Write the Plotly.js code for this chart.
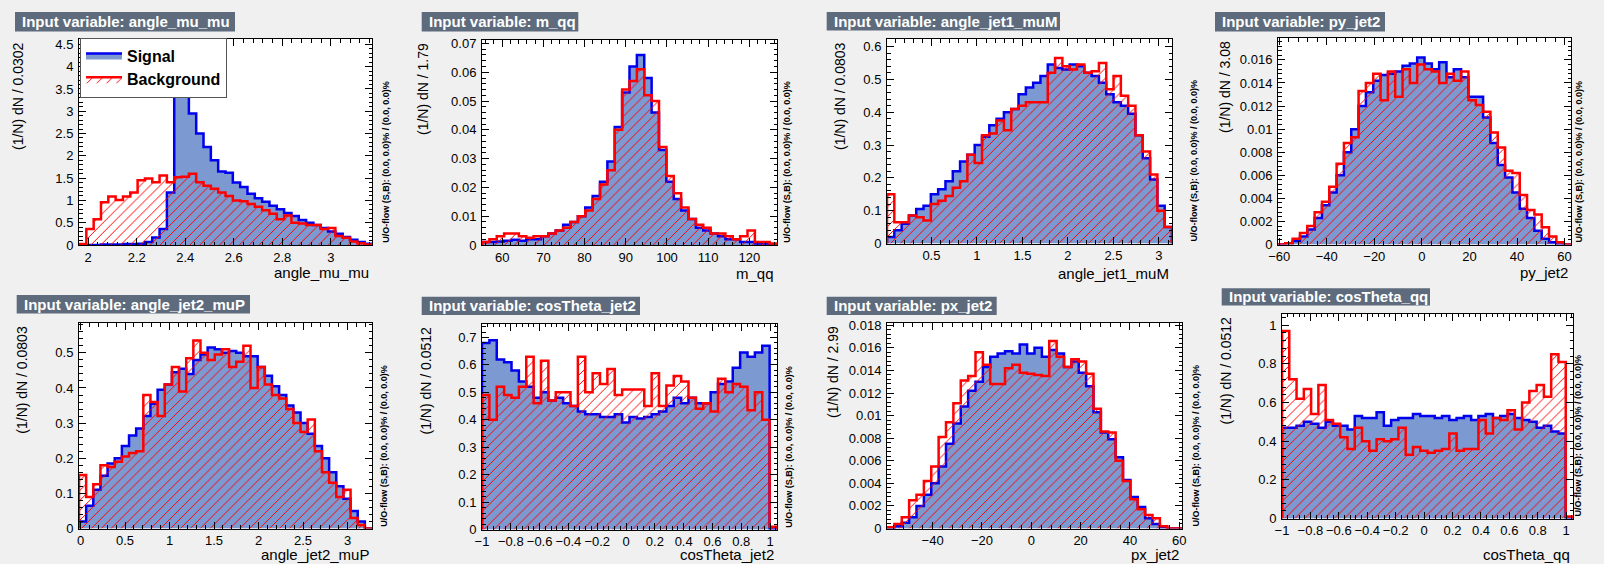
<!DOCTYPE html>
<html>
<head>
<meta charset="utf-8">
<script src="https://cdn.plot.ly/plotly-3.0.1.min.js"></script>
<style>
  html, body { margin: 0; padding: 0; background: #f0f0f0; }
  #plot { width: 1604px; height: 564px; }
</style>
</head>
<body>
<div id="plot"></div>
<script>
// Input-variable distributions, normalised per bin: (1/N) dN / binwidth.
const variableNames = ['angle_mu_mu', 'm_qq', 'angle_jet1_muM', 'py_jet2',
                       'angle_jet2_muP', 'cosTheta_jet2', 'px_jet2', 'cosTheta_qq'];
// lower edge of the first bin and the bin width of each histogram
const binLow   = [1.962, 55.1, 0.012, -60.5, -0.017, -1.0, -58.5, -1.0];
const binWidth = [0.0302, 1.79, 0.0803, 3.08, 0.0803, 0.0512, 2.99, 0.0512];

const signal_angle_mu_mu = [0.0, 0.0, 0.0, 0.01, 0.01, 0.01, 0.02, 0.02, 0.03, 0.07,
  0.17, 0.36, 1.18, 3.58, 3.6, 2.95, 2.5, 2.2, 1.9, 1.65,
  1.62, 1.4, 1.3, 1.15, 1.05, 0.97, 0.88, 0.8, 0.72, 0.65,
  0.56, 0.5, 0.45, 0.38, 0.3, 0.25, 0.18, 0.12, 0.07, 0.03];
const background_angle_mu_mu = [0.02, 0.36, 0.58, 0.96, 1.09, 1.01, 1.09, 1.18, 1.45, 1.49,
  1.41, 1.56, 1.41, 1.52, 1.53, 1.6, 1.41, 1.33, 1.26, 1.18,
  1.1, 1.0, 0.98, 0.92, 0.86, 0.78, 0.7, 0.58, 0.66, 0.5,
  0.48, 0.45, 0.45, 0.36, 0.38, 0.2, 0.16, 0.08, 0.04, 0.01];

const signal_m_qq = [0.001, 0.001, 0.0012, 0.0015, 0.0018, 0.0015, 0.002, 0.002, 0.003, 0.004,
  0.005, 0.007, 0.008, 0.010, 0.013, 0.017, 0.022, 0.029, 0.041, 0.053,
  0.062, 0.066, 0.058, 0.046, 0.033, 0.022, 0.016, 0.012, 0.009, 0.006,
  0.005, 0.004, 0.003, 0.002, 0.002, 0.001, 0.001, 0.0005, 0.0005, 0.0002];
const background_m_qq = [0.001, 0.002, 0.003, 0.004, 0.004, 0.003, 0.0025, 0.003, 0.003, 0.004,
  0.005, 0.006, 0.008, 0.010, 0.012, 0.016, 0.021, 0.026, 0.040, 0.054,
  0.057, 0.061, 0.052, 0.050, 0.034, 0.024, 0.018, 0.013, 0.009, 0.007,
  0.006, 0.004, 0.004, 0.003, 0.002, 0.003, 0.005, 0.001, 0.001, 0.0005];

const signal_angle_jet1_muM = [0.02, 0.04, 0.06, 0.085, 0.105, 0.115, 0.15, 0.165, 0.19, 0.22,
  0.25, 0.27, 0.3, 0.325, 0.36, 0.38, 0.40, 0.41, 0.455, 0.475,
  0.49, 0.51, 0.545, 0.535, 0.53, 0.545, 0.54, 0.52, 0.51, 0.49,
  0.455, 0.43, 0.42, 0.395, 0.33, 0.26, 0.195, 0.115, 0.05];
const background_angle_jet1_muM = [0.15, 0.065, 0.065, 0.085, 0.08, 0.07, 0.12, 0.13, 0.145, 0.17,
  0.19, 0.27, 0.245, 0.33, 0.335, 0.375, 0.345, 0.41, 0.42, 0.43,
  0.43, 0.43, 0.52, 0.565, 0.54, 0.53, 0.545, 0.52, 0.525, 0.55,
  0.47, 0.51, 0.45, 0.42, 0.33, 0.28, 0.21, 0.10, 0.05];

const signal_py_jet2 = [0, 0.0001, 0.0003, 0.0007, 0.0013, 0.0023, 0.0034, 0.0045, 0.0060, 0.0080,
  0.0100, 0.0120, 0.0132, 0.0142, 0.0147, 0.0148, 0.0150, 0.0155, 0.0157, 0.0162,
  0.0157, 0.0152, 0.0158, 0.0145, 0.0152, 0.0145, 0.0128, 0.0128, 0.0110, 0.0088,
  0.0069, 0.0058, 0.0045, 0.0031, 0.0023, 0.0012, 0.0005, 0.0002, 0, 0];
const background_py_jet2 = [0, 0.0001, 0.0005, 0.0010, 0.0016, 0.0028, 0.0037, 0.0050, 0.0070, 0.0088,
  0.0093, 0.0133, 0.0140, 0.0148, 0.0125, 0.0150, 0.0128, 0.0152, 0.0140, 0.0156,
  0.0152, 0.0150, 0.0140, 0.0148, 0.0142, 0.0150, 0.0125, 0.0121, 0.0115, 0.0097,
  0.0084, 0.0064, 0.0062, 0.0043, 0.0030, 0.0026, 0.0015, 0.0007, 0.0002, 0];

const signal_angle_jet2_muP = [0.02, 0.065, 0.11, 0.15, 0.185, 0.2, 0.235, 0.265, 0.285, 0.32,
  0.355, 0.395, 0.41, 0.445, 0.455, 0.44, 0.48, 0.495, 0.515, 0.51,
  0.5, 0.505, 0.5, 0.49, 0.49, 0.46, 0.435, 0.405, 0.38, 0.35,
  0.33, 0.3, 0.27, 0.235, 0.2, 0.16, 0.12, 0.085, 0.05, 0.02, 0];
const background_angle_jet2_muP = [0.152, 0.09, 0.126, 0.18, 0.175, 0.19, 0.205, 0.215, 0.22, 0.38,
  0.36, 0.32, 0.41, 0.46, 0.39, 0.485, 0.535, 0.5, 0.48, 0.495,
  0.51, 0.46, 0.475, 0.52, 0.40, 0.46, 0.41, 0.38, 0.37, 0.34,
  0.30, 0.275, 0.31, 0.22, 0.16, 0.13, 0.09, 0.11, 0.03, 0.01, 0];

const signal_cosTheta_jet2 = [0.68, 0.69, 0.62, 0.61, 0.58, 0.54, 0.52, 0.48, 0.50, 0.47,
  0.48, 0.46, 0.45, 0.43, 0.42, 0.42, 0.41, 0.41, 0.42, 0.39,
  0.41, 0.405, 0.41, 0.42, 0.43, 0.45, 0.48, 0.46, 0.48, 0.46,
  0.46, 0.50, 0.53, 0.54, 0.59, 0.645, 0.63, 0.645, 0.67, 0];
const background_cosTheta_jet2 = [0.49, 0.40, 0.52, 0.49, 0.48, 0.52, 0.63, 0.46, 0.615, 0.47,
  0.50, 0.50, 0.45, 0.63, 0.50, 0.57, 0.53, 0.585, 0.49, 0.51,
  0.51, 0.51, 0.45, 0.57, 0.45, 0.525, 0.56, 0.54, 0.48, 0.44,
  0.46, 0.43, 0.55, 0.50, 0.53, 0.52, 0.435, 0.50, 0.40, 0.01];

const signal_px_jet2 = [0, 0.0002, 0.0005, 0.001, 0.002, 0.003, 0.004, 0.0055, 0.0075, 0.0093,
  0.0108, 0.0122, 0.013, 0.0143, 0.0152, 0.0155, 0.0157, 0.0155, 0.0163, 0.0155,
  0.016, 0.0152, 0.0158, 0.0155, 0.0143, 0.0148, 0.0138, 0.0126, 0.0103, 0.0085,
  0.0079, 0.0063, 0.0043, 0.0028, 0.0019, 0.0009, 0.0004, 0.0001, 0, 0];
const background_px_jet2 = [0.0001, 0.0004, 0.001, 0.0025, 0.003, 0.0042, 0.0055, 0.0081, 0.0094, 0.0111,
  0.0131, 0.0135, 0.0156, 0.0145, 0.0128, 0.0128, 0.0142, 0.0145, 0.0138, 0.0137,
  0.0136, 0.0135, 0.0166, 0.0152, 0.0143, 0.0150, 0.0148, 0.0137, 0.0106, 0.0086,
  0.0085, 0.0060, 0.0042, 0.0026, 0.0017, 0.0012, 0.0009, 0.0002, 0, 0];

const signal_cosTheta_qq = [0.47, 0.47, 0.48, 0.50, 0.49, 0.47, 0.50, 0.48, 0.48, 0.46,
  0.53, 0.52, 0.52, 0.55, 0.48, 0.51, 0.52, 0.52, 0.54, 0.53,
  0.53, 0.52, 0.53, 0.51, 0.52, 0.53, 0.51, 0.53, 0.54, 0.52,
  0.53, 0.54, 0.52, 0.51, 0.50, 0.47, 0.48, 0.45, 0.44, 0.0];
const background_cosTheta_qq = [0.97, 0.72, 0.62, 0.67, 0.54, 0.69, 0.51, 0.49, 0.42, 0.36,
  0.47, 0.40, 0.35, 0.41, 0.40, 0.41, 0.47, 0.33, 0.37, 0.35,
  0.34, 0.35, 0.36, 0.44, 0.35, 0.36, 0.36, 0.51, 0.44, 0.52,
  0.51, 0.56, 0.46, 0.60, 0.66, 0.69, 0.63, 0.85, 0.81, 0.01];

const signalValues = [signal_angle_mu_mu, signal_m_qq, signal_angle_jet1_muM, signal_py_jet2,
  signal_angle_jet2_muP, signal_cosTheta_jet2, signal_px_jet2, signal_cosTheta_qq];
const backgroundValues = [background_angle_mu_mu, background_m_qq, background_angle_jet1_muM, background_py_jet2,
  background_angle_jet2_muP, background_cosTheta_jet2, background_px_jet2, background_cosTheta_qq];

// axis scales
const yMax    = [4.62, 0.0712, 0.623, 0.0179, 0.585, 0.751, 0.0182, 1.0605];
const yDtick  = [0.5, 0.01, 0.1, 0.002, 0.1, 0.1, 0.002, 0.2];
const xDtick  = [0.2, 10, 0.5, 20, 0.5, 0.2, 20, 0.2];

// ---- canvas geometry (pixels) ----
const W = 1604, H = 564;
const frames = [
  {l: 79,   r: 372,   t: 39,    b: 245},
  {l: 482,  r: 777,   t: 40,    b: 245},
  {l: 887,  r: 1172,  t: 39,    b: 243.5},
  {l: 1278, r: 1571,  t: 38,    b: 244.5},
  {l: 79,   r: 372,   t: 323,   b: 528.5},
  {l: 482,  r: 777,   t: 323.5, b: 529.5},
  {l: 887,  r: 1182,  t: 323,   b: 528.5},
  {l: 1282, r: 1573,  t: 313.5, b: 518.5}
];
const titleBoxes = [
  {l: 15,    t: 12,    r: 235,   b: 31.5},
  {l: 421.7, t: 12,    r: 578.3, b: 31.5},
  {l: 826.7, t: 12,    r: 1060,  b: 30.5},
  {l: 1215,  t: 12,    r: 1385,  b: 31.5},
  {l: 16.7,  t: 295,   r: 250,   b: 313.5},
  {l: 421.7, t: 296.7, r: 640,   b: 315},
  {l: 826.7, t: 296.7, r: 996.7, b: 315},
  {l: 1221.7,t: 288.3, r: 1430,  b: 305.5}
];
const yTitleX = [18, 423, 840, 1225, 21.7, 425, 833, 1225];
const flowTextX = [385.7, 786.7, 1193, 1578, 383.3, 788.3, 1195, 1577];
const xTitleTop = [262, 263, 263, 262, 544, 544, 544, 544];

const FONT = 'Liberation Sans, Arial, Helvetica, sans-serif';
const SIG_LINE = '#0000ee', SIG_FILL = '#7d99d1', BKG = '#ff0000';

const px2x = p => p / W;
const px2y = p => 1 - p / H;

// step outline of a histogram, closed down to zero at both ends
function steps(lo, w, vals) {
  const xs = [lo], ys = [0];
  vals.forEach((v, i) => { xs.push(lo + i * w); ys.push(v); });
  const hi = lo + vals.length * w;
  xs.push(hi); ys.push(vals[vals.length - 1]);
  xs.push(hi); ys.push(0);
  return {xs, ys};
}

const traces = [];
const layout = {
  width: W, height: H, autosize: false,
  margin: {l: 0, r: 0, t: 0, b: 0, pad: 0},
  paper_bgcolor: '#f0f0f0',
  plot_bgcolor: '#ffffff',
  font: {family: FONT, color: '#000'},
  showlegend: true,
  legend: {
    x: px2x(80), y: px2y(37.5), xanchor: 'left', yanchor: 'top',
    bgcolor: '#ffffff', bordercolor: '#555555', borderwidth: 1,
    font: {family: FONT, size: 16, color: '#000', weight: 'bold'},
    itemwidth: 36, tracegroupgap: 0, traceorder: 'normal'
  },
  annotations: [],
  shapes: []
};

variableNames.forEach((name, i) => {
  const sfx = i === 0 ? '' : String(i + 1);
  const xa = 'x' + sfx, ya = 'y' + sfx;
  const f = frames[i];
  const lo = binLow[i], w = binWidth[i];
  const nb = signalValues[i].length;
  const hi = lo + nb * w;

  const s = steps(lo, w, signalValues[i]);
  const b = steps(lo, w, backgroundValues[i]);

  traces.push({
    type: 'scatter', mode: 'lines', x: s.xs, y: s.ys, xaxis: xa, yaxis: ya,
    line: {shape: 'hv', color: SIG_LINE, width: 2.5},
    fill: 'tozeroy', fillcolor: SIG_FILL,
    name: 'Signal', showlegend: i === 0, hoverinfo: 'skip'
  });
  traces.push({
    type: 'scatter', mode: 'lines', x: b.xs, y: b.ys, xaxis: xa, yaxis: ya,
    line: {shape: 'hv', color: BKG, width: 2.5},
    fill: 'tozeroy', fillcolor: 'rgba(0,0,0,0)',
    fillpattern: {shape: '/', fgcolor: BKG, size: 7, solidity: 0.14},
    name: 'Background', showlegend: i === 0, hoverinfo: 'skip'
  });

  const common = {
    showgrid: false, zeroline: false, showline: true, linecolor: '#000', linewidth: 1,
    mirror: 'allticks', ticks: 'inside', tickcolor: '#000', tickwidth: 1,
    tickfont: {family: FONT, size: 13, color: '#000'}, fixedrange: true
  };
  layout['xaxis' + sfx] = Object.assign({}, common, {
    domain: [px2x(f.l), px2x(f.r)], anchor: ya, range: [lo, hi],
    tick0: 0, dtick: xDtick[i], ticklen: 7,
    minor: {ticks: 'inside', ticklen: 3.5, tickcolor: '#000', dtick: xDtick[i] / 5, tick0: 0}
  });
  layout['yaxis' + sfx] = Object.assign({}, common, {
    domain: [px2y(f.b), px2y(f.t)], anchor: xa, range: [0, yMax[i]],
    tick0: 0, dtick: yDtick[i], ticklen: 7, ticklabelstandoff: 2,
    minor: {ticks: 'inside', ticklen: 3.5, tickcolor: '#000', dtick: yDtick[i] / 5, tick0: 0}
  });

  // title box
  const tb = titleBoxes[i];
  layout.shapes.push({
    type: 'rect', xref: 'paper', yref: 'paper',
    x0: px2x(tb.l), x1: px2x(tb.r), y0: px2y(tb.b), y1: px2y(tb.t),
    fillcolor: '#5d6b7d', line: {width: 0}
  });
  layout.annotations.push({
    xref: 'paper', yref: 'paper', x: px2x(tb.l + 5), y: px2y((tb.t + tb.b) / 2),
    xanchor: 'left', yanchor: 'middle', showarrow: false,
    text: 'Input variable: ' + name,
    font: {family: FONT, size: 15, color: '#ffffff', weight: 'bold'}
  });

  // x-axis title, right aligned under the frame
  layout.annotations.push({
    xref: 'paper', yref: 'paper', x: px2x(f.r - 1), y: px2y(xTitleTop[i]),
    xanchor: 'right', yanchor: 'top', showarrow: false, text: name,
    font: {family: FONT, size: 15, color: '#000'}
  });

  // y-axis title, rotated, aligned with the top of the frame
  layout.annotations.push({
    xref: 'paper', yref: 'paper', x: px2x(yTitleX[i]), y: px2y(f.t + 1),
    xanchor: 'center', yanchor: 'top', showarrow: false, textangle: -90,
    text: '(1/N) dN / ' + Number(w.toPrecision(3)),
    font: {family: FONT, size: 14, color: '#000'}
  });

  // under/overflow note along the right edge
  layout.annotations.push({
    xref: 'paper', yref: 'paper', x: px2x(flowTextX[i]), y: px2y(f.b),
    xanchor: 'center', yanchor: 'bottom', showarrow: false, textangle: -90,
    text: 'U/O-flow (S,B): (0.0, 0.0)% / (0.0, 0.0)%',
    font: {family: FONT, size: 9, color: '#000', weight: 'bold'}
  });
});

Plotly.newPlot('plot', traces, layout, {displayModeBar: false, staticPlot: true});
</script>
</body>
</html>
